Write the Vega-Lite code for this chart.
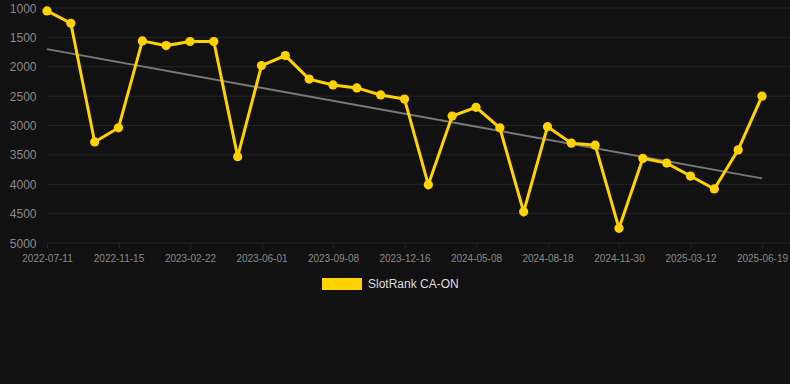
{
  "$schema": "https://vega.github.io/schema/vega-lite/v6.json",
  "width": 743,
  "height": 235,
  "autosize": {"type": "none"},
  "padding": {"left": 47, "top": 8, "right": 0, "bottom": 141},
  "background": "#111111",
  "config": {
    "view": {"stroke": null},
    "font": "Liberation Sans",
    "axis": {
      "gridColor": "#242424",
      "gridWidth": 1,
      "domain": false,
      "labelColor": "#8a8a8a",
      "labelFont": "Liberation Sans"
    }
  },
  "datasets": {
    "ranks": [
      {"date": "2022-07-11", "rank": 1050, "series": "SlotRank CA-ON"},
      {"date": "2022-08-23", "rank": 1260, "series": "SlotRank CA-ON"},
      {"date": "2022-10-04", "rank": 3280, "series": "SlotRank CA-ON"},
      {"date": "2022-11-15", "rank": 3040, "series": "SlotRank CA-ON"},
      {"date": "2022-12-18", "rank": 1560, "series": "SlotRank CA-ON"},
      {"date": "2023-01-20", "rank": 1640, "series": "SlotRank CA-ON"},
      {"date": "2023-02-22", "rank": 1570, "series": "SlotRank CA-ON"},
      {"date": "2023-03-27", "rank": 1570, "series": "SlotRank CA-ON"},
      {"date": "2023-04-29", "rank": 3530, "series": "SlotRank CA-ON"},
      {"date": "2023-06-01", "rank": 1980, "series": "SlotRank CA-ON"},
      {"date": "2023-07-04", "rank": 1810, "series": "SlotRank CA-ON"},
      {"date": "2023-08-06", "rank": 2210, "series": "SlotRank CA-ON"},
      {"date": "2023-09-08", "rank": 2310, "series": "SlotRank CA-ON"},
      {"date": "2023-10-11", "rank": 2360, "series": "SlotRank CA-ON"},
      {"date": "2023-11-13", "rank": 2480, "series": "SlotRank CA-ON"},
      {"date": "2023-12-16", "rank": 2550, "series": "SlotRank CA-ON"},
      {"date": "2024-02-02", "rank": 4010, "series": "SlotRank CA-ON"},
      {"date": "2024-03-21", "rank": 2840, "series": "SlotRank CA-ON"},
      {"date": "2024-05-08", "rank": 2690, "series": "SlotRank CA-ON"},
      {"date": "2024-06-11", "rank": 3040, "series": "SlotRank CA-ON"},
      {"date": "2024-07-15", "rank": 4470, "series": "SlotRank CA-ON"},
      {"date": "2024-08-18", "rank": 3020, "series": "SlotRank CA-ON"},
      {"date": "2024-09-21", "rank": 3300, "series": "SlotRank CA-ON"},
      {"date": "2024-10-26", "rank": 3335, "series": "SlotRank CA-ON"},
      {"date": "2024-11-30", "rank": 4750, "series": "SlotRank CA-ON"},
      {"date": "2025-01-03", "rank": 3560, "series": "SlotRank CA-ON"},
      {"date": "2025-02-06", "rank": 3640, "series": "SlotRank CA-ON"},
      {"date": "2025-03-12", "rank": 3860, "series": "SlotRank CA-ON"},
      {"date": "2025-04-14", "rank": 4080, "series": "SlotRank CA-ON"},
      {"date": "2025-05-17", "rank": 3415, "series": "SlotRank CA-ON"},
      {"date": "2025-06-19", "rank": 2500, "series": "SlotRank CA-ON"}
    ],
    "trend": [
      {"date": "2022-07-11", "rank": 1700},
      {"date": "2025-06-19", "rank": 3900}
    ],
    "grid": [
      {"rank": 1000}, {"rank": 1500}, {"rank": 2000}, {"rank": 2500}, {"rank": 3000},
      {"rank": 3500}, {"rank": 4000}, {"rank": 4500}, {"rank": 5000}
    ]
  },
  "encoding": {
    "y": {
      "field": "rank",
      "type": "quantitative",
      "scale": {"domain": [1000, 5000], "reverse": true, "nice": false, "zero": false},
      "axis": {
        "title": null,
        "format": "d",
        "grid": false,
        "values": [1000, 1500, 2000, 2500, 3000, 3500, 4000, 4500, 5000],
        "ticks": false,
        "labelOverlap": false,
        "labelFontSize": 12,
        "labelPadding": 11
      }
    }
  },
  "layer": [
    {
      "data": {"name": "grid"},
      "mark": {"type": "rule", "color": "#242424", "strokeWidth": 1}
    },
    {
      "data": {"name": "trend"},
      "mark": {"type": "line", "color": "#7a7a7a", "strokeWidth": 2},
      "encoding": {
        "x": {
          "field": "date",
          "type": "ordinal",
          "scale": {"type": "point", "range": [0, 715], "padding": 0},
          "axis": {
            "title": null,
            "labelAngle": 0,
            "labelFontSize": 10,
            "labelPadding": 5,
            "tickSize": 5,
            "tickColor": "#242424",
            "labelOverlap": false,
            "values": ["2022-07-11", "2022-11-15", "2023-02-22", "2023-06-01", "2023-09-08", "2023-12-16", "2024-05-08", "2024-08-18", "2024-11-30", "2025-03-12", "2025-06-19"]
          }
        }
      }
    },
    {
      "data": {"name": "ranks"},
      "mark": {"type": "line", "color": "#FFD200", "strokeWidth": 3},
      "encoding": {
        "x": {"field": "date", "type": "ordinal"}
      }
    },
    {
      "data": {"name": "ranks"},
      "mark": {"type": "point", "filled": true, "size": 85, "opacity": 1},
      "encoding": {
        "x": {"field": "date", "type": "ordinal"},
        "color": {
          "field": "series",
          "type": "nominal",
          "scale": {"range": ["#FFD200"]},
          "legend": {
            "title": null,
            "orient": "none",
            "legendX": 275,
            "legendY": 256,
            "symbolType": "M-1,-0.3H1V0.3H-1Z",
            "symbolSize": 1600,
            "symbolStrokeWidth": 0,
            "labelColor": "#dddddd",
            "labelFontSize": 12,
            "labelFont": "Liberation Sans",
            "labelOffset": 6
          }
        }
      }
    }
  ]
}
